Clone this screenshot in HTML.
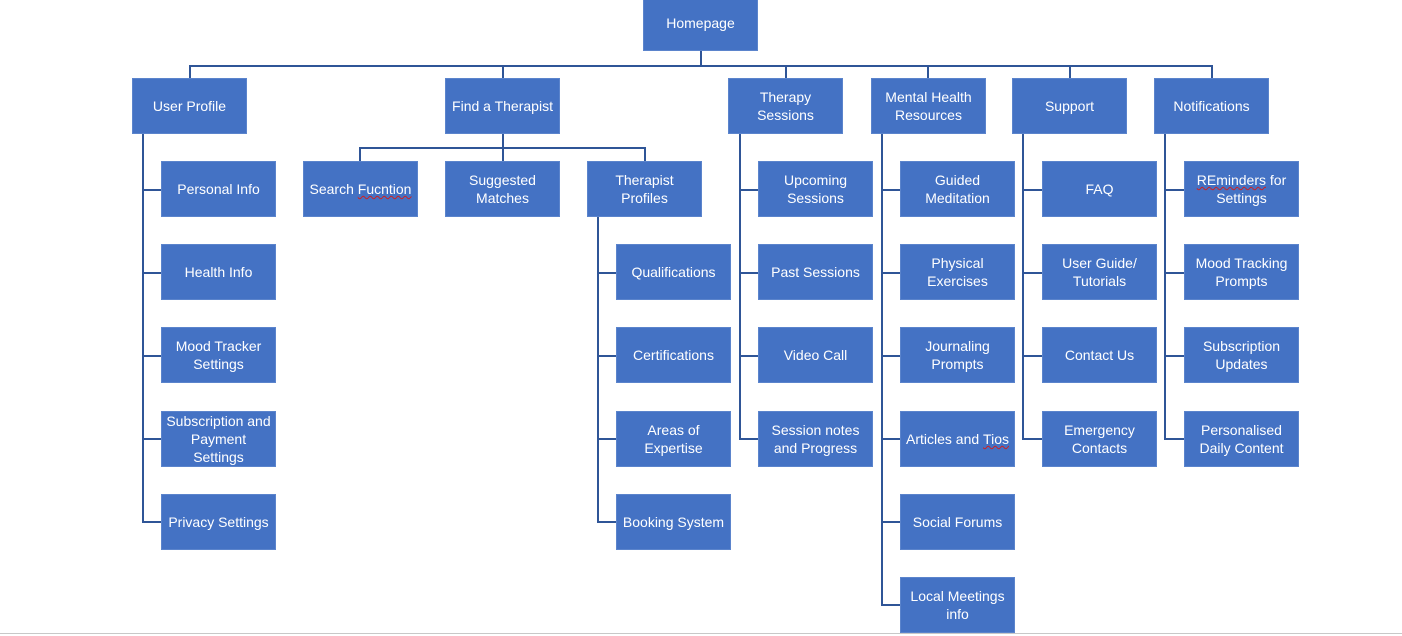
<!DOCTYPE html>
<html><head><meta charset="utf-8"><style>
body{margin:0;width:1402px;height:636px;background:#fff;position:relative;overflow:hidden;font-family:"Liberation Sans",sans-serif}
.b{position:absolute;width:115px;height:56px;background:#4472C4;color:#fff;font-size:14px;display:flex;align-items:center;justify-content:center;text-align:center;line-height:18px;box-sizing:border-box;border:1px solid #5b84cc}
.l{position:absolute;background:#2F5597}
.sq{text-decoration:underline wavy #d02020;text-decoration-thickness:1px}
</style></head><body>
<!-- lines -->
<div class="l" style="left:700px;top:51px;width:2px;height:15px"></div>
<div class="l" style="left:189px;top:65px;width:1024px;height:2px"></div>
<div class="l" style="left:189px;top:65px;width:2px;height:13px"></div>
<div class="l" style="left:502px;top:65px;width:2px;height:13px"></div>
<div class="l" style="left:785px;top:65px;width:2px;height:13px"></div>
<div class="l" style="left:927px;top:65px;width:2px;height:13px"></div>
<div class="l" style="left:1069px;top:65px;width:2px;height:13px"></div>
<div class="l" style="left:1211px;top:65px;width:2px;height:13px"></div>
<!-- user profile -->
<div class="l" style="left:142px;top:134px;width:2px;height:389px"></div>
<div class="l" style="left:142px;top:189px;width:19px;height:2px"></div>
<div class="l" style="left:142px;top:272px;width:19px;height:2px"></div>
<div class="l" style="left:142px;top:355px;width:19px;height:2px"></div>
<div class="l" style="left:142px;top:438px;width:19px;height:2px"></div>
<div class="l" style="left:142px;top:521px;width:19px;height:2px"></div>
<!-- find therapist -->
<div class="l" style="left:502px;top:134px;width:2px;height:27px"></div>
<div class="l" style="left:359px;top:147px;width:287px;height:2px"></div>
<div class="l" style="left:359px;top:147px;width:2px;height:14px"></div>
<div class="l" style="left:644px;top:147px;width:2px;height:14px"></div>
<div class="l" style="left:597px;top:217px;width:2px;height:306px"></div>
<div class="l" style="left:597px;top:272px;width:19px;height:2px"></div>
<div class="l" style="left:597px;top:355px;width:19px;height:2px"></div>
<div class="l" style="left:597px;top:438px;width:19px;height:2px"></div>
<div class="l" style="left:597px;top:521px;width:19px;height:2px"></div>
<!-- therapy -->
<div class="l" style="left:739px;top:134px;width:2px;height:306px"></div>
<div class="l" style="left:739px;top:189px;width:19px;height:2px"></div>
<div class="l" style="left:739px;top:272px;width:19px;height:2px"></div>
<div class="l" style="left:739px;top:355px;width:19px;height:2px"></div>
<div class="l" style="left:739px;top:438px;width:19px;height:2px"></div>
<!-- MH -->
<div class="l" style="left:881px;top:134px;width:2px;height:472px"></div>
<div class="l" style="left:881px;top:189px;width:19px;height:2px"></div>
<div class="l" style="left:881px;top:272px;width:19px;height:2px"></div>
<div class="l" style="left:881px;top:355px;width:19px;height:2px"></div>
<div class="l" style="left:881px;top:438px;width:19px;height:2px"></div>
<div class="l" style="left:881px;top:521px;width:19px;height:2px"></div>
<div class="l" style="left:881px;top:604px;width:19px;height:2px"></div>
<!-- support -->
<div class="l" style="left:1022px;top:134px;width:2px;height:306px"></div>
<div class="l" style="left:1022px;top:189px;width:20px;height:2px"></div>
<div class="l" style="left:1022px;top:272px;width:20px;height:2px"></div>
<div class="l" style="left:1022px;top:355px;width:20px;height:2px"></div>
<div class="l" style="left:1022px;top:438px;width:20px;height:2px"></div>
<!-- notif -->
<div class="l" style="left:1164px;top:134px;width:2px;height:306px"></div>
<div class="l" style="left:1164px;top:189px;width:20px;height:2px"></div>
<div class="l" style="left:1164px;top:272px;width:20px;height:2px"></div>
<div class="l" style="left:1164px;top:355px;width:20px;height:2px"></div>
<div class="l" style="left:1164px;top:438px;width:20px;height:2px"></div>
<!-- boxes -->
<div class="b" style="left:643px;top:-5px;height:56px">Homepage</div>
<div class="b" style="left:132px;top:78px">User Profile</div>
<div class="b" style="left:445px;top:78px">Find a Therapist</div>
<div class="b" style="left:728px;top:78px">Therapy<br>Sessions</div>
<div class="b" style="left:871px;top:78px">Mental Health<br>Resources</div>
<div class="b" style="left:1012px;top:78px">Support</div>
<div class="b" style="left:1154px;top:78px">Notifications</div>

<div class="b" style="left:161px;top:161px">Personal Info</div>
<div class="b" style="left:161px;top:244px">Health Info</div>
<div class="b" style="left:161px;top:327px">Mood Tracker<br>Settings</div>
<div class="b" style="left:161px;top:411px">Subscription and<br>Payment<br>Settings</div>
<div class="b" style="left:161px;top:494px">Privacy Settings</div>

<div class="b" style="left:303px;top:161px">Search&nbsp;<span class="sq">Fucntion</span></div>
<div class="b" style="left:445px;top:161px">Suggested<br>Matches</div>
<div class="b" style="left:587px;top:161px">Therapist<br>Profiles</div>
<div class="b" style="left:616px;top:244px">Qualifications</div>
<div class="b" style="left:616px;top:327px">Certifications</div>
<div class="b" style="left:616px;top:411px">Areas of<br>Expertise</div>
<div class="b" style="left:616px;top:494px">Booking System</div>

<div class="b" style="left:758px;top:161px">Upcoming<br>Sessions</div>
<div class="b" style="left:758px;top:244px">Past Sessions</div>
<div class="b" style="left:758px;top:327px">Video Call</div>
<div class="b" style="left:758px;top:411px">Session notes<br>and Progress</div>

<div class="b" style="left:900px;top:161px">Guided<br>Meditation</div>
<div class="b" style="left:900px;top:244px">Physical<br>Exercises</div>
<div class="b" style="left:900px;top:327px">Journaling<br>Prompts</div>
<div class="b" style="left:900px;top:411px">Articles and&nbsp;<span class="sq">Tios</span></div>
<div class="b" style="left:900px;top:494px">Social Forums</div>
<div class="b" style="left:900px;top:577px">Local Meetings<br>info</div>

<div class="b" style="left:1042px;top:161px">FAQ</div>
<div class="b" style="left:1042px;top:244px">User Guide/<br>Tutorials</div>
<div class="b" style="left:1042px;top:327px">Contact Us</div>
<div class="b" style="left:1042px;top:411px">Emergency<br>Contacts</div>

<div class="b" style="left:1184px;top:161px"><span><span class="sq">REminders</span> for<br>Settings</span></div>
<div class="b" style="left:1184px;top:244px">Mood Tracking<br>Prompts</div>
<div class="b" style="left:1184px;top:327px">Subscription<br>Updates</div>
<div class="b" style="left:1184px;top:411px">Personalised<br>Daily Content</div>

<div style="position:absolute;left:0;top:633px;width:1402px;height:1px;background:#c8c8c8"></div>
</body></html>
